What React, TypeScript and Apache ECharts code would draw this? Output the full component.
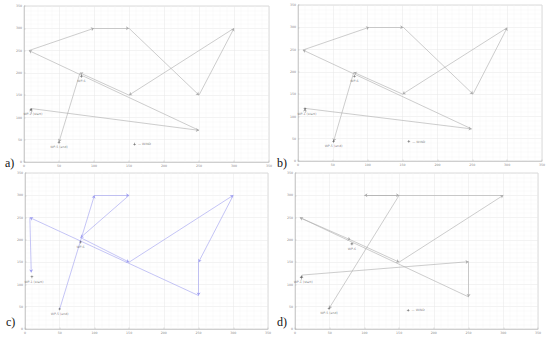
import React, { useEffect, useRef } from "react";
import * as echarts from "echarts";

// Route waypoints (data coords) per panel
const routeAX = [10, 10, 250, 7, 100, 150, 250, 300, 150, 80, 50];
const routeAY = [108, 120, 71, 250, 300, 300, 150, 300, 150, 200, 45];
const routeBX = [10, 10, 249, 7, 102, 151, 251, 300, 150, 80, 51];
const routeBY = [108, 118, 72, 249, 300, 300, 150, 299, 150, 199, 44];
const routeCX = [50, 100, 150, 80, 150, 300, 250, 250, 7, 9];
const routeCY = [45, 300, 300, 205, 150, 300, 150, 75, 250, 127];
const routeDX = [9, 10, 250, 250, 7, 80, 150, 300, 100, 150, 49];
const routeDY = [109, 121, 151, 72, 250, 200, 150, 300, 300, 300, 46];

// Labelled markers per panel
const markerLabels = ["WP-1 (start)", "WP-5 (end)", "WP-6", "WIND"];
const markersAX = [10, 50, 82, 158];
const markersAY = [118, 44, 192, 40];
const markersBX = [10, 51, 81, 159];
const markersBY = [117, 44, 190, 44];
const markersCX = [10, 50, 80];
const markersCY = [117, 45, 195];
const markersDX = [9, 49, 82, 163];
const markersDY = [116, 46, 191, 42];

const tickMin = 0;
const tickMax = 350;
const tickStep = 50;
const panelLetters = ["a)", "b)", "c)", "d)"];

const PLUS = "path://M4,0H6V4H10V6H6V10H4V6H0V4H4Z";

export default function App() {
  const ref = useRef<HTMLDivElement>(null);
  useEffect(() => {
    if (!ref.current) return;
    const chart = echarts.init(ref.current, undefined, { renderer: "svg" });
    const routes = [
      [routeAX, routeAY],
      [routeBX, routeBY],
      [routeCX, routeCY],
      [routeDX, routeDY],
    ];
    const markers = [
      [markersAX, markersAY],
      [markersBX, markersBY],
      [markersCX, markersCY],
      [markersDX, markersDY],
    ];
    const colors = ["#ababab", "#ababab", "#9e9ef0", "#ababab"];
    const grids = [
      { left: 24, top: 6, width: 245, height: 156 },
      { left: 298, top: 5, width: 244, height: 156 },
      { left: 25, top: 173, width: 243, height: 156 },
      { left: 295, top: 173, width: 243, height: 156 },
    ];
    const axisCommon = {
      type: "value",
      min: tickMin,
      max: tickMax,
      interval: tickStep,
      axisLabel: { fontSize: 3.2, color: "#8a8a8a", margin: 2, fontFamily: "DejaVu Sans" },
      axisTick: { show: true, length: 1.5, inside: true, lineStyle: { color: "#aaa", width: 0.4 } },
      axisLine: { show: true, lineStyle: { color: "#b4b4b4", width: 0.5 } },
      splitLine: { show: true, lineStyle: { color: "#e6e6e6", width: 0.5 } },
      minorTick: { show: false, splitNumber: 5 },
      minorSplitLine: { show: true, lineStyle: { color: "#f3f3f3", width: 0.4 } },
    };
    const series: any[] = [];
    routes.forEach(([xs, ys], i) => {
      const segs = [];
      for (let k = 0; k < xs.length - 1; k++) {
        segs.push({ coords: [[xs[k], ys[k]], [xs[k + 1], ys[k + 1]]] });
      }
      series.push({
        type: "lines",
        coordinateSystem: "cartesian2d",
        xAxisIndex: i,
        yAxisIndex: i,
        data: segs,
        symbol: ["none", "arrow"],
        symbolSize: [0, 3],
        lineStyle: { color: colors[i], width: 0.6, opacity: 1 },
        z: 3,
      });
      const [mx, my] = markers[i];
      series.push({
        type: "scatter",
        xAxisIndex: i,
        yAxisIndex: i,
        symbol: PLUS,
        symbolSize: 2.6,
        itemStyle: { color: "#333" },
        data: mx.map((x, k) => ({
          value: [x, my[k]],
          label: {
            show: true,
            formatter: k === 3 ? "— " + markerLabels[k] : markerLabels[k],
            position: k === 3 ? "right" : "bottom",
            distance: 2,
            offset: k === 0 ? [2, 0] : [0, 0],
            fontSize: 3.2,
            color: "#555",
            fontFamily: "DejaVu Sans",
          },
        })),
        z: 4,
      });
    });
    const letterPos = [
      [5, 157],
      [277, 157],
      [6, 316],
      [277, 316],
    ];
    chart.setOption({
      animation: false,
      backgroundColor: "#fff",
      grid: grids.map((g) => ({ ...g, show: true, borderColor: "#b4b4b4", borderWidth: 0.5, backgroundColor: "transparent" })),
      xAxis: grids.map((_, i) => ({ ...axisCommon, gridIndex: i })),
      yAxis: grids.map((_, i) => ({ ...axisCommon, gridIndex: i })),
      series,
      graphic: panelLetters.map((t, i) => ({
        type: "text",
        left: letterPos[i][0],
        top: letterPos[i][1],
        style: { text: t, fontSize: 12, fontFamily: "Liberation Serif", fill: "#111" },
        z: 10,
      })),
    });
    return () => chart.dispose();
  }, []);
  return (
    <div
      ref={ref}
      style={{ position: "absolute", left: 0, top: 0, width: 550, height: 342, background: "#fff" }}
    />
  );
}
